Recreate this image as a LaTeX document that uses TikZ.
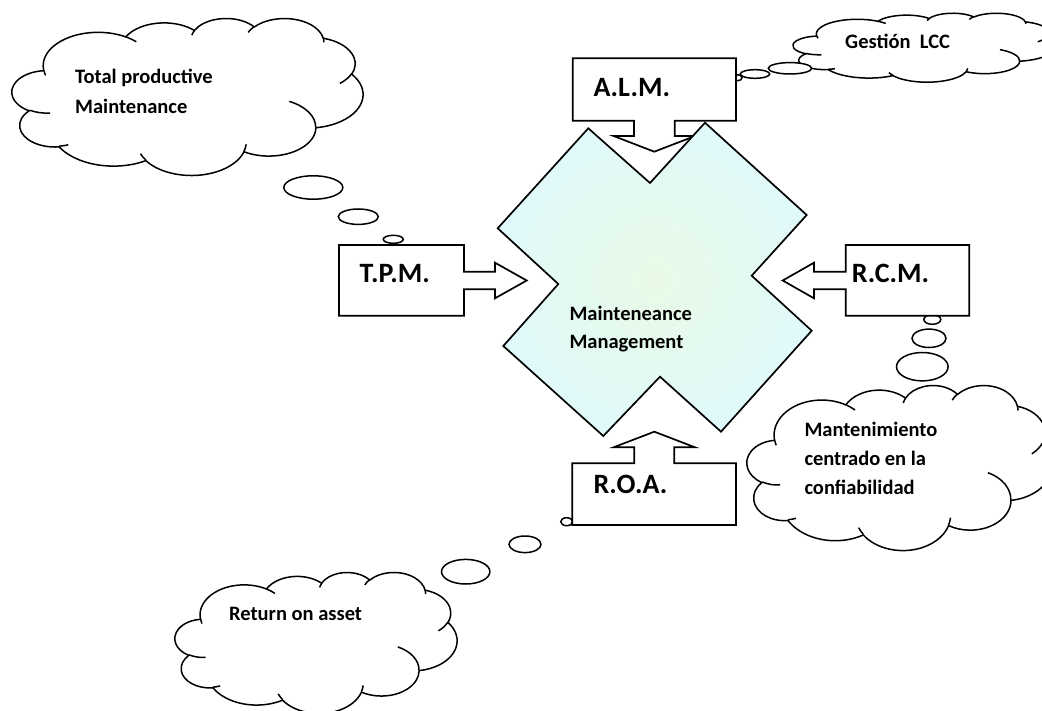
\documentclass[tikz,border=0pt]{standalone}
\usepackage{fontspec}
\setmainfont{Carlito}
\makeatletter
\pgfmathdeclarefunction{vis}{3}{%
  \begingroup
    \pgfmathparse{atan2((#2)*sin(#1),(#3)*cos(#1))}%
    \pgfmath@smuggleone\pgfmathresult
  \endgroup}
\makeatother
\newcommand\carc[4]{arc[start angle={vis(#3,#1,#2)},delta angle={mod(vis(#3+#4,#1,#2)-vis(#3,#1,#2)+720,360)},x radius=#1,y radius=#2]}
\newcommand\cloudat[5]{%
  \pgfmathsetmacro\cloudsx{#4/4320}%
  \pgfmathsetmacro\cloudsy{#5/4320}%
  \begin{scope}[shift={(#2,#3)},x=\cloudsx pt,y=-\cloudsy pt]
    \draw[cloudline,fill=white] (390,1437)
      \carc{675.3}{919.0}{-190.4875}{123.7805}
      \carc{533.3}{726.7}{-144.1024}{89.9452}
      \carc{436.5}{594.5}{-145.8079}{99.7230}
      \carc{485.7}{659.5}{-130.9861}{117.2417}
      \carc{533.3}{727.3}{-78.7089}{109.0269}
      \carc{677.5}{922.0}{-46.2673}{130.2690}
      \carc{578.5}{786.7}{0.6250}{114.0333}
      \carc{675.2}{921.5}{22.4516}{115.1726}
      \carc{772.0}{1054.3}{66.2426}{75.7110}
      \carc{436.0}{591.8}{-274.9421}{146.7356}
      \carc{434.5}{594.5}{-246.8285}{152.5189} -- cycle;
    \draw[cloudline]
      (469.3,2617.7) \carc{434.5}{594.5}{86.7420}{26.4295}
      (692.8,3489.9) \carc{436.0}{591.8}{73.6105}{11.4475}
      (1647.8,3909.0) \carc{675.2}{921.5}{137.6242}{14.0811}
      (2882.7,3475.1) \carc{675.2}{921.5}{6.4533}{15.9984}
      (3412.9,2295.4) \carc{578.5}{786.7}{-70.2924}{70.9174}
      (4179.8,1535.4) \carc{533.3}{727.3}{30.3180}{27.7515}
      (3832.4,542.6) \carc{485.7}{659.5}{-13.7443}{14.8589}
      (2907.8,395.2) \carc{485.7}{659.5}{-149.1815}{18.1954}
      (2214.1,472.0) \carc{436.5}{594.5}{-163.4943}{17.6864}
      (1400.0,519.2) \carc{675.3}{919.0}{-66.7070}{12.3194}
      (412.7,1578.9) \carc{675.3}{919.0}{157.6544}{11.8582};
    \coordinate (#1) at (2160,2160);
  \end{scope}}
\definecolor{crossout}{RGB}{224,249,250}
\definecolor{crossin}{RGB}{233,250,230}
\tikzset{
  cloudline/.style={line width=1.5pt,line join=round},
  bubble/.style={line width=1.5pt,fill=white},
  callout/.style={line width=1.7pt,fill=white,line join=miter},
  crossshape/.style={line width=1.7pt,line join=miter},
  small/.style={font=\fontsize{20.5}{24}\selectfont\bfseries,inner sep=0pt,anchor=base west},
  big/.style={font=\fontsize{28}{32}\selectfont\bfseries,inner sep=0pt,anchor=base west}
}
\begin{document}
\begin{tikzpicture}[x=1pt,y=-1pt]
\useasboundingbox (0,0) rectangle (1042,711);
\fill[white] (0,0) rectangle (1042,711);

% clouds
\cloudat{ctpm}{12}{18}{351}{157}
\cloudat{calm}{793}{13}{262}{69}
\cloudat{crcm}{747}{385}{305}{165}
\cloudat{croa}{175}{572}{282}{141}

% bubbles
\draw[bubble] (313.3,187.5) ellipse[x radius=29.5pt,y radius=11.7pt];
\draw[bubble] (358.3,216.7) ellipse[x radius=20pt,y radius=7.7pt];
\draw[bubble] (393.3,239.3) ellipse[x radius=10pt,y radius=4pt];
\draw[bubble] (738,77.7) ellipse[x radius=4pt,y radius=3pt];
\draw[bubble] (755,74) ellipse[x radius=14.7pt,y radius=4.3pt];
\draw[bubble] (790,68.3) ellipse[x radius=21.7pt,y radius=5.7pt];
\draw[bubble] (932.3,319.5) ellipse[x radius=8.5pt,y radius=4.8pt];
\draw[bubble] (929,338.3) ellipse[x radius=17pt,y radius=9.2pt];
\draw[bubble] (922.3,366.7) ellipse[x radius=25.8pt,y radius=14.2pt];
\draw[bubble] (566.7,521.7) ellipse[x radius=6pt,y radius=4pt];
\draw[bubble] (525,544.3) ellipse[x radius=16pt,y radius=8.3pt];
\draw[bubble] (465.7,571.7) ellipse[x radius=24.2pt,y radius=12.3pt];

% callout boxes
\draw[callout] (572.7,58.3) -- (736,58.3) -- (736,120.7) -- (674.7,120.7) -- (674.7,136)
  -- (695,136) -- (654.3,151.7) -- (613.6,136) -- (634,136) -- (634,120.7) -- (572.7,120.7) -- cycle;
\draw[callout] (572.3,525) -- (736,525) -- (736,463.3) -- (674.3,463.3) -- (674.3,447.3)
  -- (695,447.3) -- (654.3,431.7) -- (613.6,447.3) -- (634.3,447.3) -- (634.3,463.3) -- (572.3,463.3) -- cycle;
\draw[callout] (339,245) -- (464,245) -- (464,271.7) -- (495,271.7) -- (495,262.7)
  -- (526.7,280.5) -- (495,298.3) -- (495,289.3) -- (464,289.3) -- (464,315.7) -- (339,315.7) -- cycle;
\draw[callout] (969.3,245) -- (845.7,245) -- (845.7,271.7) -- (814,271.7) -- (814,262.7)
  -- (782.7,280.5) -- (814,298.3) -- (814,289.3) -- (845.7,289.3) -- (845.7,315.7) -- (969.3,315.7) -- cycle;

% central cross
\path[inner color=crossin,outer color=crossout]
  (588.3,128.3) -- (650,183) -- (705,122.7) -- (806.7,215) -- (751.7,275.7) -- (811.7,330.7)
  -- (721,431.7) -- (660,376.7) -- (603.3,436) -- (503.3,346) -- (558.3,284) -- (497.7,228.3) -- cycle;
\draw[crossshape]
  (588.3,128.3) -- (650,183) -- (705,122.7) -- (806.7,215) -- (751.7,275.7) -- (811.7,330.7)
  -- (721,431.7) -- (660,376.7) -- (603.3,436) -- (503.3,346) -- (558.3,284) -- (497.7,228.3) -- cycle;

% texts
\node[big] (talm) at (593.3,96.7) {A.L.M.};
\node[big] (ttpm) at (359.3,282.7) {T.P.M.};
\node[big] (trcm) at (851.7,282.7) {R.C.M.};
\node[big] (troa) at (593.3,493.3) {R.O.A.};
\node[small] (mm1) at (569.3,320.7) {Mainteneance};
\node[small] (mm2) at (569.3,349) {Management};
\node[small] (tp1) at (75,83.3) {Total productive};
\node[small] (tp2) at (75,113.3) {Maintenance};
\node[small] (glcc) at (845,49) {Gestión~ LCC};
\node[small] (mc1) at (804.3,436.7) {Mantenimiento};
\node[small] (mc2) at (804.3,465.7) {centrado en la};
\node[small] (mc3) at (804.3,494.5) {confiabilidad};
\node[small] (roa1) at (229,620.7) {Return on asset};
\end{tikzpicture}
\end{document}
